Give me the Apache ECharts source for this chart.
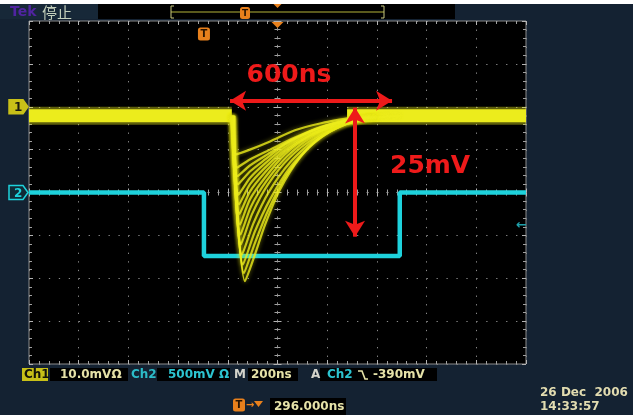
<!DOCTYPE html>
<html>
<head>
<meta charset="utf-8">
<script src="https://cdn.jsdelivr.net/npm/echarts@6/dist/echarts.min.js"></script>
<style>
html, body { margin: 0; background: #fff; }
#chart { width: 633px; height: 415px; }
</style>
</head>
<body>
<div id="chart"></div>
<script>
// time axis in ns (200 ns/div), vertical axis in divisions (8 div)
const timeRange = [-1000, 1000]
const divRange = [-4, 4]

// Ch1 (10 mV/div) - yellow, baseline and overlaid pulses
const ch1BandLeft = [[-1000, 1.79], [-184, 1.79]]
const ch1BandRight = [[280, 1.79], [1000, 1.79]]
const ch1Pulses = [
  [[-187, 1.79], [-131, -2.07], [-91, -1.45], [-50, -0.75], [10, 0.07], [91, 0.82], [171, 1.28], [272, 1.59], [372, 1.75], [493, 1.79]],
  [[-186, 1.79], [-135, -1.88], [-91, -1.18], [-40, -0.45], [30, 0.35], [121, 1.02], [212, 1.42], [322, 1.68], [450, 1.79]],
  [[-185, 1.79], [-139, -1.68], [-91, -0.91], [-30, -0.16], [50, 0.58], [151, 1.19], [252, 1.54], [372, 1.72], [493, 1.79]],
  [[-184, 1.79], [-143, -1.45], [-97, -0.72], [-34, 0.02], [50, 0.7], [151, 1.24], [262, 1.58], [392, 1.75]],
  [[-183, 1.79], [-147, -1.21], [-103, -0.51], [-38, 0.19], [50, 0.82], [151, 1.28], [272, 1.61], [412, 1.77]],
  [[-182, 1.79], [-149, -0.98], [-107, -0.33], [-44, 0.27], [40, 0.85], [141, 1.3], [262, 1.6], [400, 1.77]],
  [[-181, 1.79], [-151, -0.75], [-111, -0.16], [-50, 0.35], [30, 0.89], [131, 1.31], [252, 1.59], [392, 1.76]],
  [[-180, 1.79], [-153, -0.5], [-111, 0.02], [-50, 0.47], [30, 0.95], [131, 1.33], [252, 1.6], [392, 1.76]],
  [[-179, 1.79], [-155, -0.28], [-111, 0.19], [-50, 0.58], [30, 1.0], [131, 1.35], [252, 1.61], [392, 1.76]],
  [[-178, 1.79], [-157, -0.05], [-111, 0.34], [-50, 0.68], [30, 1.06], [131, 1.39], [252, 1.63], [380, 1.76]],
  [[-177, 1.79], [-159, 0.19], [-111, 0.49], [-50, 0.77], [30, 1.12], [131, 1.42], [252, 1.66], [372, 1.76]],
  [[-176, 1.79], [-161, 0.38], [-111, 0.63], [-40, 0.89], [50, 1.2], [151, 1.47], [272, 1.67]],
  [[-175, 1.79], [-163, 0.58], [-111, 0.77], [-30, 1.0], [70, 1.28], [171, 1.52], [292, 1.7]],
  [[-173, 1.79], [-167, 0.89], [-111, 1.0], [-30, 1.19], [70, 1.45], [171, 1.61], [292, 1.74]]
]

// Ch2 (500 mV/div) - cyan gate
const ch2Trace = [[-1000, 0], [-296, 0], [-296, -1.48], [492, -1.48], [492, 0], [1000, 0]]

// red annotations
const spanArrow = [[-191, 2.14], [461, 2.14]]
const heightArrow = [[312, 1.98], [312, -1.03]]
const spanLabel = ['600ns', 46, 2.73]
const heightLabel = ['25mV', 614, 0.6]

// scope markers
const ch1Ground = 2
const ch2Ground = 0
const triggerTime = -296
const triggerLevel = -0.78

const YELLOW = '#ecec1c'
const CYAN = '#1ed2dc'
const RED = '#ee1a1a'
const NAVY = '#142232'
const ORANGE = '#e8801c'
const FONT = '"DejaVu Sans", sans-serif'

const chart = echarts.init(document.getElementById('chart'))

function scopeAxis(pos, opts) {
  const vertical = pos === 'left' || pos === 'right'
  return Object.assign({
    type: 'value',
    min: vertical ? divRange[0] : timeRange[0],
    max: vertical ? divRange[1] : timeRange[1],
    interval: vertical ? 1 : 200,
    position: pos,
    axisLabel: { show: false },
    axisLine: { show: false, onZero: false },
    axisTick: { show: true, inside: true, length: 4, lineStyle: { color: '#b4b4b4', width: 1 } },
    minorTick: { show: true, splitNumber: 5, length: 3, lineStyle: { color: '#a0a0a0', width: 1 } },
    splitLine: { show: false }
  }, opts)
}

const xDots = [1.3, 8.64]
const yDots = [1.3, 7.28]

const series = []
;[ch1BandLeft, ch1BandRight].forEach(band => {
  series.push({
    type: 'line', data: band, symbol: 'none', animation: false,
    lineStyle: { color: YELLOW, width: 18, opacity: 0.4 }, z: 3
  })
  series.push({
    type: 'line', data: band, symbol: 'none', animation: false,
    lineStyle: { color: YELLOW, width: 13 }, z: 3
  })
})
ch1Pulses.forEach(p => {
  series.push({
    type: 'line', data: p, symbol: 'none', smooth: 0.25, animation: false,
    lineStyle: { color: YELLOW, width: 2.2, opacity: 0.8, shadowColor: 'rgba(236,236,28,0.6)', shadowBlur: 4 }, z: 3
  })
})
series.push({
  type: 'line', data: ch2Trace, symbol: 'none', animation: false,
  lineStyle: { color: CYAN, width: 4.5 }, z: 2,
  markLine: {
    silent: true, animation: false,
    symbol: ['arrow', 'arrow'], symbolSize: [15, 16],
    label: { show: false },
    lineStyle: { color: RED, width: 4, type: 'solid' },
    data: [
      [{ coord: spanArrow[0] }, { coord: spanArrow[1] }],
      [{ coord: heightArrow[0] }, { coord: heightArrow[1] }]
    ]
  }
})

chart.setOption({
  backgroundColor: NAVY,
  animation: false,
  grid: {
    left: 29, top: 21, width: 497, height: 343,
    show: true, backgroundColor: '#000', borderColor: '#8c8c8c', borderWidth: 1
  },
  xAxis: [
    scopeAxis('bottom', { splitLine: { show: true, lineStyle: { color: '#8a8a8a', type: yDots, width: 1 } } }),
    scopeAxis('top'),
    scopeAxis('bottom', { axisLine: { show: true, onZero: true, onZeroAxisIndex: 0, lineStyle: { color: '#8a8a8a', type: xDots } } }),
    scopeAxis('bottom', { axisLine: { show: false, onZero: true, onZeroAxisIndex: 0 }, axisTick: { show: true, inside: false, length: 4, lineStyle: { color: '#b4b4b4' } } })
  ],
  yAxis: [
    scopeAxis('left', { splitLine: { show: true, lineStyle: { color: '#8a8a8a', type: xDots, width: 1 } } }),
    scopeAxis('right'),
    scopeAxis('left', { axisLine: { show: true, onZero: true, onZeroAxisIndex: 0, lineStyle: { color: '#8a8a8a', type: yDots } } }),
    scopeAxis('left', { axisLine: { show: false, onZero: true, onZeroAxisIndex: 0 }, axisTick: { show: true, inside: false, length: 4, lineStyle: { color: '#b4b4b4' } } })
  ],
  series
})

const px = (t, d) => chart.convertToPixel({ gridIndex: 0 }, [t, d])

function box(x, y, w, h, fill, r) {
  return { type: 'rect', shape: { x, y, width: w, height: h, r: r || 0 }, style: { fill }, z: 10 }
}
function txt(x, y, text, fill, size, extra, z) {
  return {
    type: 'text', x, y, z: z || 11,
    style: Object.assign({ text, fill, font: `bold ${size || 12}px ${FONT}`, verticalAlign: 'middle' }, extra)
  }
}
function tBadge(cx, cy, w, h) {
  return [
    Object.assign(box(cx - w / 2, cy - h / 2, w, h, ORANGE, 2.5), { z: 12 }),
    txt(cx, cy + 0.5, 'T', '#2a1400', Math.round(h * 0.75), { align: 'center' }, 13)
  ]
}

const g1 = px(timeRange[0], ch1Ground)
const g2 = px(timeRange[0], ch2Ground)
const trig = px(triggerTime, 0)
const mid = px(0, divRange[1])
const lvl = px(timeRange[1], triggerLevel)
const sp = px(spanLabel[1], spanLabel[2])
const ht = px(heightLabel[1], heightLabel[2])

const chMarker = (y, fill, stroke) => ({
  type: 'polygon', z: 10,
  shape: { points: [[9, y - 7], [23, y - 7], [28, y], [23, y + 7], [9, y + 7]] },
  style: { fill, stroke, lineWidth: 1.5 }
})

const graphic = [
  // white strip at the very top
  box(0, 0, 633, 4, '#fff'),
  // top bar
  box(0, 4, 98, 15, '#172838'),
  txt(10, 12, 'Tek', '#5024a0', 14),
  txt(42, 12, '停止', '#c4d0bc', 15, { font: `15px "Noto Sans CJK SC", sans-serif` }),
  box(98, 4, 357, 15, '#000'),
  { type: 'line', z: 11, shape: { x1: 171, y1: 12, x2: 384, y2: 12 }, style: { stroke: '#b4b43a', lineWidth: 1.2 } },
  { type: 'polyline', z: 11, shape: { points: [[174, 6], [171, 6], [171, 18], [174, 18]] }, style: { stroke: '#c8c880', lineWidth: 1, fill: null } },
  { type: 'polyline', z: 11, shape: { points: [[381, 6], [384, 6], [384, 18], [381, 18]] }, style: { stroke: '#c8c880', lineWidth: 1, fill: null } },
  ...tBadge(245, 13, 10, 12),
  { type: 'polygon', z: 12, shape: { points: [[mid[0] - 4, 4], [mid[0] + 4, 4], [mid[0], 8]] }, style: { fill: ORANGE } },

  // trigger position on the graticule
  { type: 'polygon', z: 12, shape: { points: [[mid[0] - 6, mid[1] + 1], [mid[0] + 6, mid[1] + 1], [mid[0], mid[1] + 7]] }, style: { fill: ORANGE } },
  ...tBadge(trig[0], 34, 12, 13),

  // channel ground markers
  chMarker(g1[1], '#c8c018', '#c8c018'),
  txt(14, g1[1] + 1, '1', '#1a1a10', 12, {}, 13),
  chMarker(g2[1], '#102a36', CYAN),
  txt(14, g2[1] + 1, '2', CYAN, 12, {}, 13),

  // trigger level
  txt(lvl[0] - 10, lvl[1], '←', '#1fa0aa', 13),

  // red annotation labels
  Object.assign(txt(sp[0], sp[1], spanLabel[0], RED, 25, { align: 'center', font: `bold 25px ${FONT}` }), { z: 100, zlevel: 1 }),
  Object.assign(txt(ht[0], ht[1], heightLabel[0], RED, 25, { align: 'center', font: `bold 25px ${FONT}` }), { z: 100, zlevel: 1 }),

  // bottom readout
  box(22, 368, 26, 13, '#c8c018'),
  txt(24, 375, 'Ch1', '#141408', 12),
  box(50, 368, 78, 13, '#000'),
  txt(60, 375, '10.0mVΩ', '#e6e2a8', 12),
  txt(131, 375, 'Ch2', '#2cbcc8', 12),
  box(157, 368, 73, 13, '#000'),
  txt(168, 375, '500mV Ω', '#2cc4d0', 12),
  txt(234, 375, 'M', '#d4d4cc', 12),
  box(248, 368, 50, 13, '#000'),
  txt(251, 375, '200ns', '#e6e2a8', 12),
  txt(311, 375, 'A', '#d4d4cc', 12),
  box(320, 368, 117, 13, '#000'),
  txt(327, 375, 'Ch2', '#2cc4d0', 12),
  { type: 'polyline', z: 11, shape: { points: [[358, 371], [362, 371], [365, 379], [368, 379]] }, style: { stroke: '#e6e2a8', lineWidth: 1.6, fill: null } },
  txt(373, 375, '-390mV', '#e6e2a8', 12),

  ...tBadge(239, 405, 12, 13),
  txt(246, 405, '→', ORANGE, 10),
  { type: 'polygon', z: 12, shape: { points: [[254, 401], [263, 401], [258.5, 407]] }, style: { fill: ORANGE } },
  box(270, 398, 76, 17, '#000'),
  txt(274, 407, '296.000ns', '#e6e2a8', 12),

  txt(540, 393, '26 Dec  2006', '#e2dcb0', 12),
  txt(540, 407, '14:33:57', '#e2dcb0', 12)
]

chart.setOption({ graphic })
</script>
</body>
</html>
